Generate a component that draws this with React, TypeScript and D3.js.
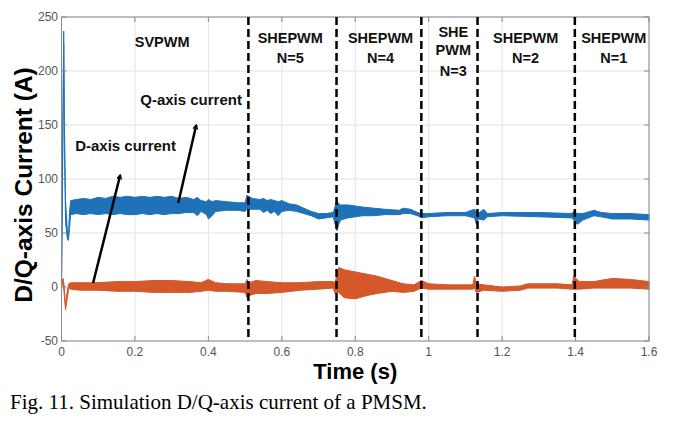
import React from "react";
import * as d3 from "d3";

// ---- Data ----
const qTime = [0, 0.003, 0.006, 0.008, 0.011, 0.016, 0.019, 0.022, 0.025, 0.04, 0.06, 0.08, 0.1, 0.12, 0.14, 0.16, 0.18, 0.2, 0.22, 0.24, 0.26, 0.28, 0.3, 0.32, 0.34, 0.36, 0.37, 0.38, 0.395, 0.4, 0.41, 0.42, 0.45, 0.48, 0.5, 0.505, 0.52, 0.54, 0.55, 0.56, 0.57, 0.58, 0.59, 0.6, 0.62, 0.64, 0.66, 0.68, 0.7, 0.72, 0.74, 0.75, 0.755, 0.76, 0.78, 0.8, 0.82, 0.85, 0.88, 0.92, 0.93, 0.95, 0.97, 0.98, 1.0, 1.05, 1.1, 1.125, 1.13, 1.135, 1.15, 1.16, 1.2, 1.3, 1.39, 1.395, 1.405, 1.42, 1.45, 1.47, 1.5, 1.55, 1.6];
const qUpper = [0, 120, 237, 150, 80, 52, 48, 70, 80, 81, 82, 81, 83, 82, 84, 83, 84, 83, 84, 83, 84, 83, 84, 82, 83, 81, 83, 80, 79, 81, 79, 80, 79, 78, 78, 85, 82, 81, 82, 80, 81, 80, 79, 80, 77, 76, 73, 70, 68, 68, 69, 80, 77, 76, 76, 75, 74, 73, 72, 71, 73, 72, 69, 68, 68, 69, 69, 72, 70, 68, 72, 68, 69, 69, 68, 70, 68, 68, 71, 69, 68, 68, 67];
const qLower = [0, 110, 225, 130, 60, 44, 43, 55, 67, 68, 67, 68, 67, 68, 67, 68, 67, 67, 68, 67, 68, 67, 68, 68, 69, 69, 66, 70, 67, 63, 66, 70, 71, 71, 70, 72, 72, 72, 69, 71, 68, 70, 66, 70, 71, 70, 68, 66, 63, 64, 65, 52, 58, 62, 64, 65, 66, 66, 67, 67, 68, 68, 66, 64, 65, 66, 66, 64, 58, 63, 62, 65, 66, 65, 64, 62, 58, 62, 66, 65, 63, 63, 62];

const dTime = [0, 0.004, 0.007, 0.011, 0.015, 0.02, 0.025, 0.05, 0.1, 0.15, 0.2, 0.25, 0.3, 0.35, 0.38, 0.4, 0.42, 0.45, 0.5, 0.505, 0.51, 0.53, 0.56, 0.6, 0.65, 0.7, 0.74, 0.745, 0.755, 0.77, 0.8, 0.83, 0.86, 0.9, 0.93, 0.96, 0.98, 1.0, 1.05, 1.12, 1.125, 1.13, 1.15, 1.2, 1.25, 1.27, 1.35, 1.39, 1.395, 1.41, 1.45, 1.5, 1.55, 1.6];
const dUpper = [0, 8, 2, -18, -5, 3, 4, 4, 4, 5, 5, 6, 6, 5, 4, 7, 4, 3, 3, 7, 4, 6, 5, 4, 4, 5, 5, 4, 18, 16, 14, 12, 10, 6, 3, 2, 6, 3, 2, 2, 10, 3, 2, 0, 1, 3, 3, 2, 10, 5, 5, 8, 7, 5];
const dLower = [0, 5, -5, -21, -12, -1, -2, -3, -3, -4, -4, -5, -5, -5, -4, -3, -4, -4, -5, -10, -8, -6, -6, -5, -3, -2, -1, -6, -5, -10, -11, -8, -6, -4, -5, -4, -1, -2, -2, -2, -1, -5, -3, -4, -3, -1, -1, -2, -2, -2, -1, -1, -1, -2];

const xTicks = [0, 0.2, 0.4, 0.6, 0.8, 1, 1.2, 1.4, 1.6];
const yTicks = [-50, 0, 50, 100, 150, 200, 250];
const switchTimes = [0.509, 0.749, 0.98, 1.133, 1.398];

const phaseLabels = [
  { t: 0.274, lines: ["SVPWM"], v: [222] },
  { t: 0.623, lines: ["SHEPWM", "N=5"], v: [226, 207.5] },
  { t: 0.869, lines: ["SHEPWM", "N=4"], v: [226, 207.5] },
  { t: 1.067, lines: ["SHE", "PWM", "N=3"], v: [231.5, 214.8, 195.4] },
  { t: 1.264, lines: ["SHEPWM", "N=2"], v: [226, 207.5] },
  { t: 1.504, lines: ["SHEPWM", "N=1"], v: [226, 207.5] },
];

const annotations = [
  { text: "Q-axis current", t: 0.353, v: 168.5, from: [0.318, 77.8], to: [0.367, 150] },
  { text: "D-axis current", t: 0.1745, v: 126, from: [0.086, 3.7], to: [0.16, 103.7] },
];

const BLUE = "#1f72b8";
const ORANGE = "#d5582a";

export default function App() {
  const W = 677, H = 423;
  const left = 61.5, right = 649, top = 17, bottom = 341;
  const x = d3.scaleLinear().domain([0, 1.6]).range([left, right]);
  const y = d3.scaleLinear().domain([-50, 250]).range([bottom, top]);

  const qData = qTime.map((t, i) => ({ t, hi: qUpper[i], lo: qLower[i] }));
  const dData = dTime.map((t, i) => ({ t, hi: dUpper[i], lo: dLower[i] }));
  const area = d3
    .area<{ t: number; hi: number; lo: number }>()
    .x((d) => x(d.t))
    .y0((d) => y(d.lo))
    .y1((d) => y(d.hi));

  const font = "Arial, 'Liberation Sans', sans-serif";

  return (
    <svg
      width={W}
      height={H}
      style={{ position: "absolute", left: 0, top: 0, background: "#fff" }}
      fontFamily={font}
    >
      <defs>
        <marker id="arr" viewBox="0 0 10 10" refX="8" refY="5" markerWidth="6" markerHeight="6" orient="auto" markerUnits="userSpaceOnUse">
          <path d="M1,1 L8,5 L1,9" fill="none" stroke="#000" strokeWidth="2" />
        </marker>
      </defs>
      {/* grid */}
      {xTicks.map((t) => (
        <line key={"gx" + t} x1={x(t)} x2={x(t)} y1={top} y2={bottom} stroke="#e3e3e3" strokeWidth={1} />
      ))}
      {yTicks.map((v) => (
        <line key={"gy" + v} x1={left} x2={right} y1={y(v)} y2={y(v)} stroke="#e3e3e3" strokeWidth={1} />
      ))}
      {/* data */}
      <path d={area(qData) || ""} fill={BLUE} stroke={BLUE} strokeWidth={1} strokeLinejoin="round" />
      <path d={area(dData) || ""} fill={ORANGE} stroke={ORANGE} strokeWidth={1} strokeLinejoin="round" />
      {/* box */}
      <rect x={left} y={top} width={right - left} height={bottom - top} fill="none" stroke="#8a8a8a" strokeWidth={1} />
      {xTicks.map((t) => (
        <g key={"tx" + t}>
          <line x1={x(t)} x2={x(t)} y1={bottom} y2={bottom - 5} stroke="#8a8a8a" />
          <line x1={x(t)} x2={x(t)} y1={top} y2={top + 5} stroke="#8a8a8a" />
          <text x={x(t)} y={356} textAnchor="middle" fontSize={12} fill="#555">
            {t}
          </text>
        </g>
      ))}
      {yTicks.map((v) => (
        <g key={"ty" + v}>
          <line x1={left} x2={left + 5} y1={y(v)} y2={y(v)} stroke="#8a8a8a" />
          <line x1={right} x2={right - 5} y1={y(v)} y2={y(v)} stroke="#8a8a8a" />
          <text x={58} y={y(v) + 4} textAnchor="end" fontSize={12} fill="#555">
            {v}
          </text>
        </g>
      ))}
      {/* switch lines */}
      {switchTimes.map((t) => (
        <line key={"s" + t} x1={x(t)} x2={x(t)} y1={top} y2={bottom - 3} stroke="#000" strokeWidth={2.5} strokeDasharray="8 4" />
      ))}
      {/* phase labels */}
      {phaseLabels.map((p) =>
        p.lines.map((ln, i) => (
          <text key={p.t + ln + i} x={x(p.t)} y={y(p.v[i])} textAnchor="middle" fontSize={14.5} fontWeight="bold" fill="#111">
            {ln}
          </text>
        ))
      )}
      {/* annotations */}
      {annotations.map((a) => (
        <g key={a.text}>
          <text x={x(a.t)} y={y(a.v)} textAnchor="middle" fontSize={15} fontWeight="bold" fill="#111">
            {a.text}
          </text>
          <line x1={x(a.from[0])} y1={y(a.from[1])} x2={x(a.to[0])} y2={y(a.to[1])} stroke="#000" strokeWidth={2.5} markerEnd="url(#arr)" />
        </g>
      ))}
      {/* axis titles */}
      <text x={(left + right) / 2} y={379} textAnchor="middle" fontSize={22} fontWeight="bold" fill="#000">
        Time (s)
      </text>
      <text transform={`translate(32,${(top + bottom) / 2 + 6}) rotate(-90)`} textAnchor="middle" fontSize={24.5} fontWeight="bold" fill="#000">
        D/Q-axis Current (A)
      </text>
      {/* caption */}
      <text x={10} y={409} fontSize={21} fontFamily="'Liberation Serif', 'Times New Roman', serif" fill="#000">
        Fig. 11. Simulation D/Q-axis current of a PMSM.
      </text>
    </svg>
  );
}
